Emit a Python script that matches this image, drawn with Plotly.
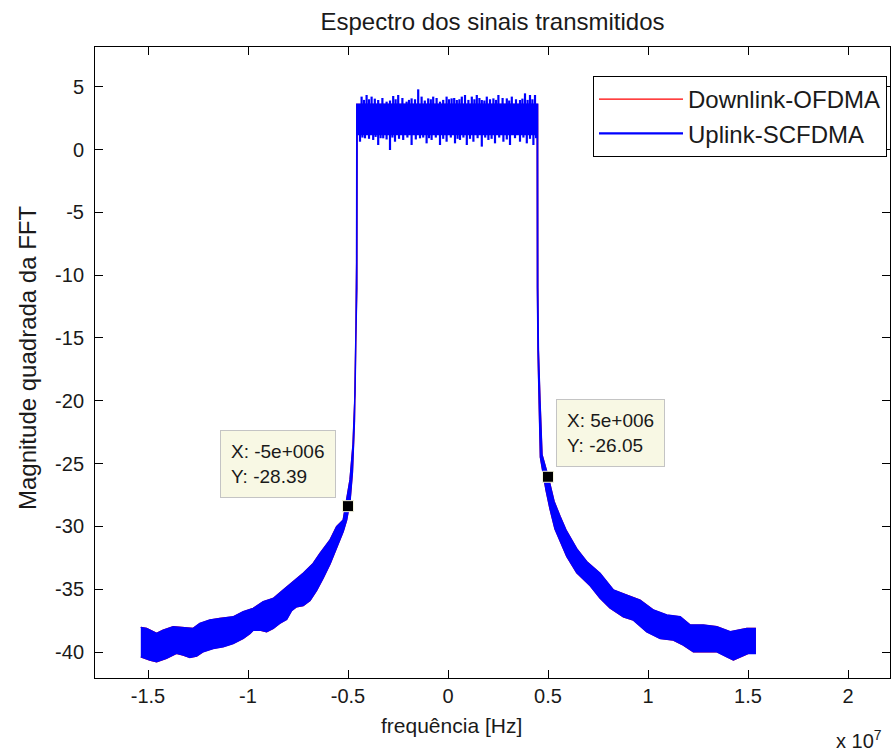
import plotly.graph_objects as go

X_EXP = 1e7  # x axis multiplier ("x 10^7")

# ---- data (x in units of 1e7 Hz, y in dB) ----
left_up_x = [-1.536, -1.507, -1.457, -1.424, -1.374, -1.307, -1.274, -1.241, -1.191, -1.141,
             -1.074, -1.024, -0.974, -0.924, -0.874, -0.824, -0.774, -0.724, -0.674, -0.640,
             -0.590, -0.557, -0.524, -0.507, -0.490, -0.475, -0.465, -0.460, -0.457, -0.456]
left_up_y = [-38.04, -38.12, -38.52, -38.26, -37.99, -38.04, -38.12, -37.73, -37.46, -37.33,
             -37.20, -36.80, -36.53, -36.00, -35.74, -35.07, -34.41, -33.74, -32.95, -32.15,
             -31.09, -30.03, -29.50, -28.00, -26.30, -23.50, -19.50, -14.00, -9.00, 3.60]
left_lo_x = [-1.536, -1.491, -1.457, -1.408, -1.358, -1.324, -1.291, -1.257, -1.224, -1.174,
             -1.124, -1.074, -1.024, -0.990, -0.974, -0.940, -0.907, -0.874, -0.840, -0.807,
             -0.782, -0.757, -0.724, -0.690, -0.657, -0.624, -0.590, -0.557, -0.524, -0.507,
             -0.490, -0.478, -0.468, -0.462, -0.456, -0.4545]
left_lo_y = [-40.38, -40.64, -40.78, -40.51, -40.11, -40.25, -40.43, -40.33, -39.98, -39.72,
             -39.58, -39.32, -38.92, -38.52, -38.26, -38.26, -38.39, -38.12, -37.70, -37.40,
             -36.70, -36.40, -36.30, -35.90, -35.10, -34.10, -33.00, -31.70, -30.40, -29.50,
             -28.00, -25.70, -21.70, -16.00, -11.00, 1.20]
right_up_x = [0.448, 0.449, 0.452, 0.460, 0.470, 0.500, 0.530, 0.560, 0.590, 0.644,
              0.694, 0.760, 0.827, 0.894, 0.960, 1.027, 1.094, 1.161, 1.211, 1.277,
              1.344, 1.411, 1.461, 1.494, 1.536]
right_up_y = [3.60, -11.00, -16.00, -20.00, -24.30, -26.00, -28.00, -29.20, -30.30, -31.80,
              -32.82, -33.74, -35.07, -35.47, -35.87, -36.66, -37.06, -37.20, -37.86, -37.86,
              -37.99, -38.39, -38.26, -38.12, -38.12]
right_lo_x = [0.446, 0.447, 0.450, 0.455, 0.462, 0.490, 0.510, 0.535, 0.594, 0.644,
              0.710, 0.760, 0.810, 0.877, 0.927, 0.994, 1.061, 1.127, 1.177, 1.227,
              1.294, 1.344, 1.394, 1.427, 1.461, 1.502, 1.536]
right_lo_y = [1.20, -11.00, -16.00, -20.50, -24.50, -27.10, -28.60, -30.20, -32.40, -33.70,
              -34.70, -35.70, -36.50, -37.20, -37.46, -38.39, -38.92, -39.05, -39.45, -39.98,
              -39.98, -39.98, -40.38, -40.64, -40.38, -40.11, -40.11]

band_top = 3.60
band_bottom = 1.25
top_spike_x = [-0.432, -0.407, -0.382, -0.349, -0.307, -0.274, -0.249, -0.207, -0.182, -0.149,
               -0.132, -0.099, -0.074, -0.040, -0.007, 0.018, 0.044, 0.069, 0.085, 0.119,
               0.144, 0.169, 0.194, 0.227, 0.252, 0.294, 0.319, 0.360, 0.385, 0.410, 0.435]
top_spike_y = [4.21, 4.34, 4.21, 3.94, 3.81, 4.26, 4.34, 3.81, 4.07, 4.79,
               4.21, 4.07, 4.21, 3.81, 4.21, 4.07, 3.94, 4.21, 4.34, 4.21,
               4.34, 3.94, 4.21, 4.07, 4.34, 4.07, 4.21, 3.94, 4.47, 4.34, 4.34]
top_fine_x = [-0.420, -0.395, -0.366, -0.328, -0.290, -0.262, -0.228, -0.195, -0.165, -0.116,
              -0.086, -0.057, -0.024, 0.005, 0.031, 0.057, 0.102, 0.132, 0.157, 0.182,
              0.210, 0.240, 0.273, 0.306, 0.340, 0.372, 0.398, 0.422]
top_fine_y = [3.95, 4.00, 4.05, 4.10, 3.90, 4.00, 4.10, 3.95, 4.00, 3.90,
              4.00, 4.10, 3.95, 4.00, 4.10, 4.00, 3.95, 4.00, 4.10, 3.90,
              4.00, 3.95, 4.10, 3.90, 4.00, 4.05, 3.95, 4.00]
bot_spike_x = [-0.440, -0.415, -0.374, -0.349, -0.324, -0.290, -0.265, -0.224, -0.182, -0.140,
               -0.107, -0.082, -0.040, -0.007, 0.035, 0.060, 0.094, 0.127, 0.169, 0.202,
               0.235, 0.277, 0.310, 0.360, 0.394, 0.427]
bot_spike_y = [0.62, 0.89, 0.76, 0.36, 0.89, -0.04, 0.62, 0.76, 0.36, 0.89,
               0.49, 0.76, 0.36, 0.62, 0.49, 0.76, 0.36, 0.62, 0.23, 0.76,
               0.49, 0.62, 0.36, 0.62, 0.49, 0.36]
bot_fine_x = [-0.428, -0.395, -0.362, -0.337, -0.307, -0.278, -0.245, -0.203, -0.161, -0.124,
              -0.095, -0.061, -0.024, 0.014, 0.048, 0.077, 0.110, 0.148, 0.186, 0.218,
              0.256, 0.294, 0.335, 0.377, 0.410, 0.440]
bot_fine_y = [0.95, 0.85, 1.00, 0.90, 0.80, 0.95, 0.85, 0.95, 0.80, 0.95,
              0.90, 0.95, 0.85, 0.95, 0.85, 0.95, 0.85, 0.90, 0.95, 0.85,
              0.95, 0.80, 0.90, 0.95, 0.85, 0.90]

tip_x = [-5e6, 5e6]
tip_y = [-28.39, -26.05]
tip_text = ["X: -5e+006<br>Y: -28.39", "X: 5e+006<br>Y: -26.05"]

x_tick_vals = [-1.5, -1, -0.5, 0, 0.5, 1, 1.5, 2]
x_tick_text = ["-1.5", "-1", "-0.5", "0", "0.5", "1", "1.5", "2"]
y_tick_vals = [5, 0, -5, -10, -15, -20, -25, -30, -35, -40]
y_tick_text = ["5", "0", "-5", "-10", "-15", "-20", "-25", "-30", "-35", "-40"]

series_names = ["Downlink-OFDMA", "Uplink-SCFDMA"]
series_colors = ["#ff0000", "#0000ff"]

# ---- build ----
poly_x = left_up_x + right_up_x + right_lo_x[::-1] + left_lo_x[::-1]
poly_y = left_up_y + right_up_y + right_lo_y[::-1] + left_lo_y[::-1]
poly_x = [v * X_EXP for v in poly_x]

seg_x, seg_y = [], []
for base, xs_list, ys_list in [(band_top, top_spike_x + top_fine_x, top_spike_y + top_fine_y),
                               (band_bottom, bot_spike_x + bot_fine_x, bot_spike_y + bot_fine_y)]:
    for xs, ys in zip(xs_list, ys_list):
        seg_x += [xs * X_EXP, xs * X_EXP, None]
        seg_y += [base, ys, None]

FONT = "Liberation Sans, Arial, sans-serif"
TXT = "#1a1a1a"

fig = go.Figure()
# downlink (lies beneath the uplink spectrum)
fig.add_trace(go.Scatter(x=poly_x, y=poly_y, mode="lines", name=series_names[0],
                         line=dict(color=series_colors[0], width=1.3),
                         legendgroup="a", hoverinfo="skip"))
# uplink filled spectrum body
fig.add_trace(go.Scatter(x=poly_x, y=poly_y, mode="lines", fill="toself",
                         fillcolor=series_colors[1], showlegend=False,
                         line=dict(color=series_colors[1], width=1.5), hoverinfo="skip"))
# uplink noise spikes
fig.add_trace(go.Scatter(x=seg_x, y=seg_y, mode="lines", name=series_names[1],
                         line=dict(color=series_colors[1], width=2.2),
                         legendgroup="b", hoverinfo="skip"))
# data tip markers
fig.add_trace(go.Scatter(x=tip_x, y=tip_y, mode="markers", showlegend=False,
                         marker=dict(symbol="square", size=11, color="black",
                                     line=dict(color="#f4f4dc", width=1))))

for tx, ty, tt in zip(tip_x, tip_y, tip_text):
    left = tx < 0
    fig.add_annotation(x=tx, y=ty, xref="x", yref="y", text=tt, showarrow=False,
                       xanchor="right" if left else "left", yanchor="bottom",
                       xshift=-12 if left else 8, yshift=8 if left else 10,
                       align="left", bgcolor="#f8f8e4", bordercolor="#c4c4c4",
                       borderwidth=1, borderpad=10,
                       font=dict(family=FONT, size=19, color=TXT))

fig.add_annotation(xref="paper", yref="paper", x=(451 - 95) / 795, y=-(725 - 678) / 631,
                   text="frequência [Hz]", showarrow=False, xanchor="center", yanchor="middle",
                   font=dict(family=FONT, size=21, color=TXT))
fig.add_annotation(xref="paper", yref="paper", x=-(95 - 27) / 795, y=(678 - 358) / 631,
                   text="Magnitude quadrada da FFT", showarrow=False, textangle=-90,
                   xanchor="center", yanchor="middle",
                   font=dict(family=FONT, size=24, color=TXT))
fig.add_annotation(xref="paper", yref="paper", x=(884 - 95) / 795, y=-(739 - 678) / 631,
                   text="x 10<sup>7</sup>", showarrow=False, xanchor="right", yanchor="middle",
                   font=dict(family=FONT, size=20, color=TXT))

axis_common = dict(showline=True, linecolor="black", linewidth=1, mirror="ticks",
                   ticks="inside", ticklen=8, tickcolor="black", showgrid=False,
                   zeroline=False, tickfont=dict(family=FONT, size=20, color=TXT))

fig.update_layout(
    width=893, height=753,
    margin=dict(l=95, r=3, t=47, b=75),
    paper_bgcolor="white", plot_bgcolor="white",
    title=dict(text="Espectro dos sinais transmitidos", x=492.5 / 893, xanchor="center",
               y=1 - 22 / 753, yanchor="middle",
               font=dict(family=FONT, size=24, color=TXT)),
    xaxis=dict(range=[-1.765 * X_EXP, 2.21 * X_EXP],
               tickvals=[v * X_EXP for v in x_tick_vals], ticktext=x_tick_text, **axis_common),
    yaxis=dict(range=[-42.07, 8.16], tickvals=y_tick_vals, ticktext=y_tick_text,
               ticklabelstandoff=6, **axis_common),
    legend=dict(x=(887 - 95) / 795, y=(678 - 76) / 631, xanchor="right", yanchor="top",
                bgcolor="white", bordercolor="black", borderwidth=1,
                font=dict(family=FONT, size=24, color=TXT),
                traceorder="grouped", tracegroupgap=0, itemwidth=84),
    showlegend=True,
)

fig.write_html("out.html")
